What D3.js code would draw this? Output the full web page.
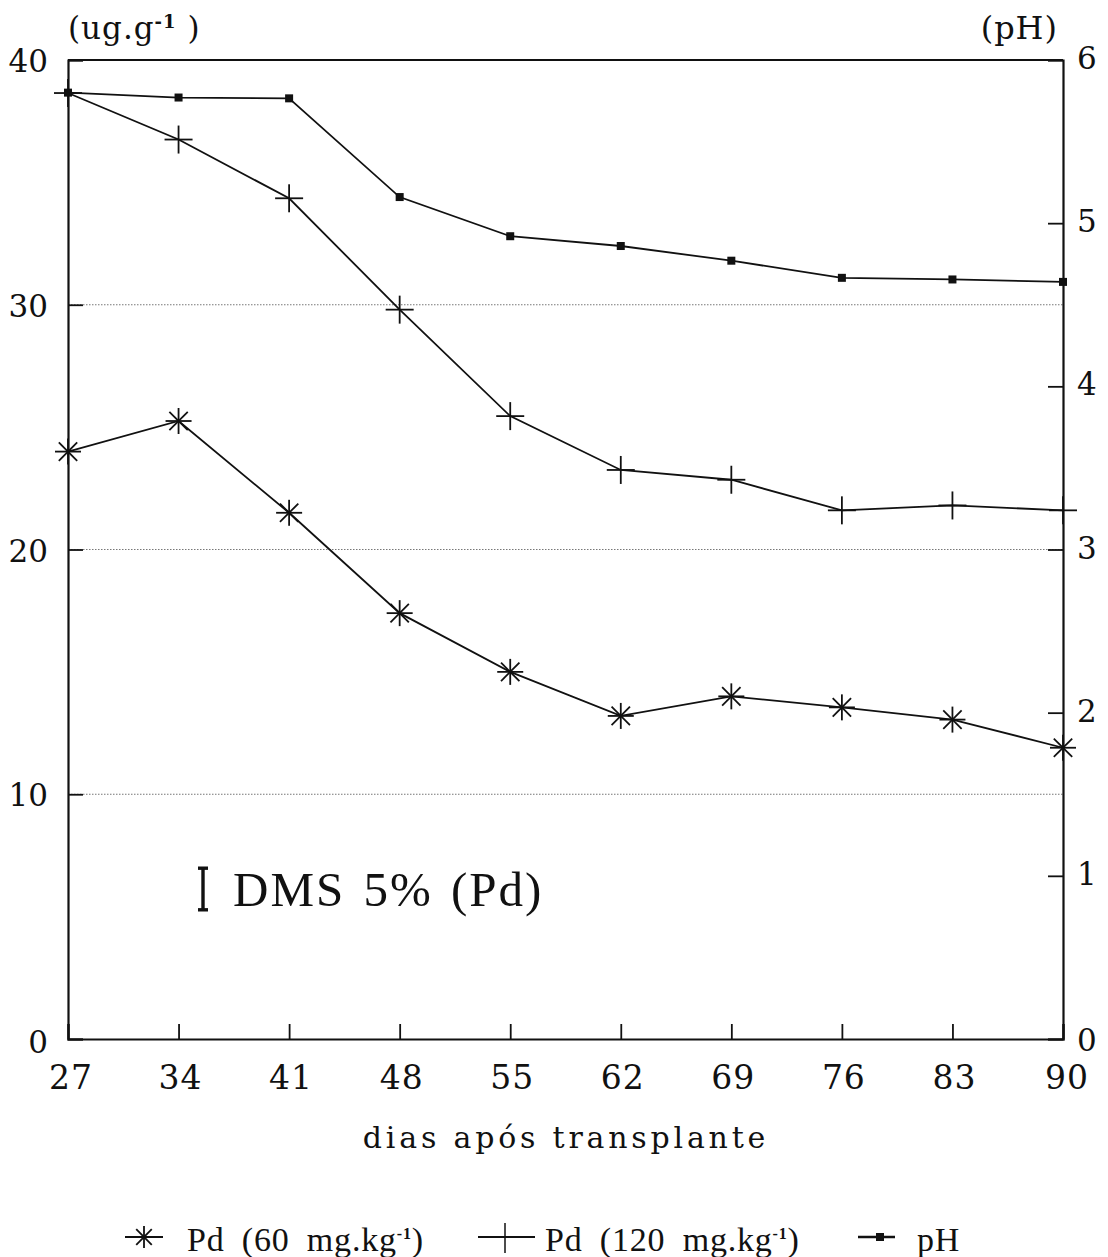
<!DOCTYPE html>
<html>
<head>
<meta charset="utf-8">
<script src="https://cdn.jsdelivr.net/npm/d3@7"></script>
<style>
  html, body { margin: 0; padding: 0; background: #fff; }
  svg { display: block; }
</style>
</head>
<body>
<svg id="chart" width="1108" height="1257"></svg>
<script>
// Days after transplant
const days = [27, 34, 41, 48, 55, 62, 69, 76, 83, 90];
// Pd content (ug.g-1) at 60 mg.kg-1
const pd60 = [24.0, 25.25, 21.5, 17.4, 15.0, 13.2, 14.0, 13.55, 13.05, 11.9];
// Pd content (ug.g-1) at 120 mg.kg-1
const pd120 = [38.65, 36.75, 34.35, 29.8, 25.45, 23.25, 22.85, 21.6, 21.8, 21.6];
// Soil pH
const ph = [5.80, 5.77, 5.765, 5.16, 4.92, 4.86, 4.77, 4.665, 4.655, 4.64];
// Axis ticks
const leftTicks = [0, 10, 20, 30, 40];
const rightTicks = [0, 1, 2, 3, 4, 5, 6];
const gridTicks = [10, 20, 30];
// Least significant difference (5%) for Pd
const dms = 1.7;

const svg = d3.select("#chart");
const serif = "'DejaVu Serif', serif";
const lf = "'Liberation Serif', serif";
const ink = "#111";
const L = 68, R = 1063, T = 60, B = 1039;

const x = d3.scaleLinear().domain([27, 90]).range([L, R]);
const yL = d3.scaleLinear().domain([0, 40]).range([B, T]);
const yR = d3.scaleLinear().domain([0, 6]).range([B, T]);

// dotted gridlines
svg.append("g").selectAll("line").data(gridTicks).join("line")
  .attr("x1", L).attr("x2", R)
  .attr("y1", d => yL(d)).attr("y2", d => yL(d))
  .attr("stroke", "#777").attr("stroke-width", 1)
  .attr("stroke-dasharray", "1.5,1.5");

// axes with inward ticks
const axLeft = svg.append("g").attr("transform", `translate(${L},0)`)
  .call(d3.axisRight(yL).tickValues(leftTicks).tickSize(15).tickFormat(""));
const axRight = svg.append("g").attr("transform", `translate(${R},0)`)
  .call(d3.axisLeft(yR).tickValues(rightTicks).tickSize(15).tickFormat(""));
const axBottom = svg.append("g").attr("transform", `translate(0,${B})`)
  .call(d3.axisTop(x).tickValues(days).tickSize(15).tickFormat(""));
[axLeft, axRight, axBottom].forEach(g => {
  g.selectAll("path").attr("stroke", ink).attr("stroke-width", 2.2);
  g.selectAll(".tick line").attr("stroke", ink).attr("stroke-width", 1.8);
});
// top frame line
svg.append("line").attr("x1", L).attr("x2", R).attr("y1", T).attr("y2", T)
  .attr("stroke", ink).attr("stroke-width", 2.2);

// tick labels
svg.append("g").selectAll("text").data(leftTicks).join("text")
  .attr("x", 48).attr("y", d => yL(d) + (d === 0 ? 3 : 1)).attr("dy", "0.36em")
  .attr("text-anchor", "end").attr("font-family", serif).attr("font-size", 31)
  .attr("fill", ink).text(d => d);
svg.append("g").selectAll("text").data(rightTicks).join("text")
  .attr("x", 1077).attr("y", d => yR(d) + (d === 0 ? 1 : -2)).attr("dy", "0.36em")
  .attr("text-anchor", "start").attr("font-family", serif).attr("font-size", 31)
  .attr("fill", ink).text(d => d);
svg.append("g").selectAll("text").data(days).join("text")
  .attr("x", d => x(d) + (d === 27 ? 3 : d === 90 ? 4 : 2)).attr("y", 1089)
  .attr("text-anchor", "middle").attr("font-family", serif).attr("font-size", 33)
  .attr("letter-spacing", 1).attr("fill", ink).text(d => d);

// axis unit labels
svg.append("text").attr("x", 68).attr("y", 39)
  .attr("font-family", serif).attr("font-size", 31).attr("letter-spacing", 1).attr("fill", ink)
  .html("(ug.g<tspan dy='-11' font-size='18' font-weight='bold'>-1</tspan><tspan dy='11'> )</tspan>");
svg.append("text").attr("x", 1058).attr("y", 39).attr("text-anchor", "end")
  .attr("font-family", serif).attr("font-size", 32).attr("letter-spacing", 1)
  .attr("fill", ink).text("(pH)");

// x axis title
svg.append("text").attr("x", 566).attr("y", 1148).attr("text-anchor", "middle")
  .attr("font-family", serif).attr("font-size", 30).attr("letter-spacing", 3.8)
  .attr("fill", ink).text("dias após transplante");

// marker shapes
function star(g, cx, cy, r) {
  for (let i = 0; i < 4; i++) {
    const a = i * Math.PI / 4;
    g.append("line")
      .attr("x1", cx - r * Math.sin(a)).attr("y1", cy - r * Math.cos(a))
      .attr("x2", cx + r * Math.sin(a)).attr("y2", cy + r * Math.cos(a))
      .attr("stroke", ink).attr("stroke-width", 1.8);
  }
}
function plus(g, cx, cy, r) {
  g.append("line").attr("x1", cx - r).attr("x2", cx + r).attr("y1", cy).attr("y2", cy)
    .attr("stroke", ink).attr("stroke-width", 1.8);
  g.append("line").attr("x1", cx).attr("x2", cx).attr("y1", cy - r).attr("y2", cy + r)
    .attr("stroke", ink).attr("stroke-width", 1.8);
}
function square(g, cx, cy, s) {
  g.append("rect").attr("x", cx - s / 2).attr("y", cy - s / 2)
    .attr("width", s).attr("height", s).attr("fill", ink);
}

// series lines
const series = [
  { values: pd60, y: yL, marker: (g, cx, cy) => star(g, cx, cy, 13) },
  { values: pd120, y: yL, marker: (g, cx, cy) => plus(g, cx, cy, 14) },
  { values: ph, y: yR, marker: (g, cx, cy) => square(g, cx, cy, 8) }
];
series.forEach(s => {
  const line = d3.line().x((d, i) => x(days[i])).y(d => s.y(d));
  svg.append("path").datum(s.values).attr("d", line)
    .attr("fill", "none").attr("stroke", ink).attr("stroke-width", 1.8);
  const g = svg.append("g");
  s.values.forEach((v, i) => s.marker(g, x(days[i]), s.y(v)));
});

// DMS bar with caps
const dmsX = 203, dmsMid = 889;
const half = (yL(0) - yL(dms)) / 2;
const gd = svg.append("g").attr("stroke", ink).attr("stroke-width", 3.4);
gd.append("line").attr("x1", dmsX).attr("x2", dmsX).attr("y1", dmsMid - half).attr("y2", dmsMid + half);
gd.append("line").attr("x1", dmsX - 5).attr("x2", dmsX + 5).attr("y1", dmsMid - half).attr("y2", dmsMid - half);
gd.append("line").attr("x1", dmsX - 5).attr("x2", dmsX + 5).attr("y1", dmsMid + half).attr("y2", dmsMid + half);
svg.append("text").attr("x", 233).attr("y", 906)
  .attr("font-family", lf).attr("font-size", 49)
  .attr("letter-spacing", 2).attr("word-spacing", 4).attr("fill", ink).text("DMS 5% (Pd)");

// legend
const legend = [
  { lineX: [125, 163], mx: 144, kind: "star", tx: 187, label: "Pd (60 mg.kg", sup: true },
  { lineX: [478, 535], mx: 505, kind: "plus", tx: 545, label: "Pd (120 mg.kg", sup: true },
  { lineX: [858, 895], mx: 880, kind: "square", tx: 917, label: "pH", sup: false }
];
const ly = 1237;
const lg = svg.append("g");
legend.forEach(e => {
  lg.append("line").attr("x1", e.lineX[0]).attr("x2", e.lineX[1]).attr("y1", ly).attr("y2", ly)
    .attr("stroke", ink).attr("stroke-width", e.kind === "square" ? 2.6 : 2);
  if (e.kind === "star") star(lg, e.mx, ly, 11);
  if (e.kind === "plus") lg.append("line").attr("x1", e.mx).attr("x2", e.mx)
    .attr("y1", ly - 14).attr("y2", ly + 16).attr("stroke", ink).attr("stroke-width", 1.5);
  if (e.kind === "square") square(lg, e.mx, ly, 8);
  const t = lg.append("text").attr("x", e.tx).attr("y", 1251)
    .attr("font-family", lf).attr("font-size", 34).attr("letter-spacing", 0.8)
    .attr("word-spacing", 8).attr("fill", ink);
  if (e.sup) {
    t.html(`${e.label}<tspan dy='-12' font-size='16' font-weight='bold'>-1</tspan><tspan dy='12'>)</tspan>`);
  } else {
    t.text(e.label);
  }
});
</script>
</body>
</html>
